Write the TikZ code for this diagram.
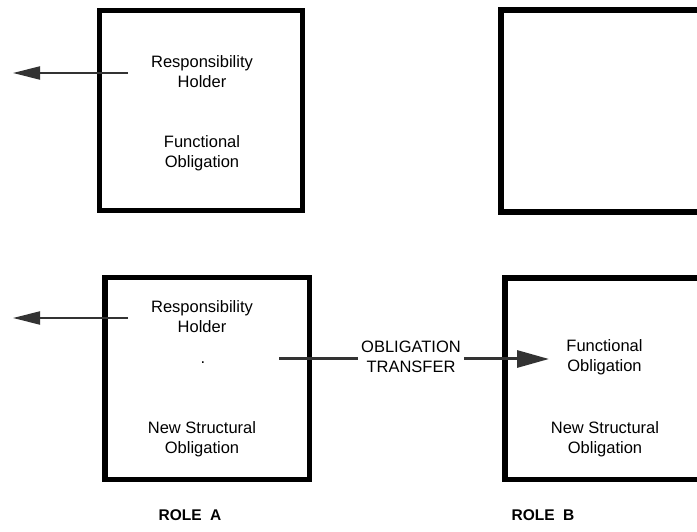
\documentclass[tikz,border=0pt]{standalone}
\usepackage{fontspec}
\setmainfont{Liberation Sans}
\usetikzlibrary{arrows.meta}
\begin{document}
\begin{tikzpicture}[x=1pt,y=1pt,
  rolebox/.style={draw=black,line width=5.5pt,inner sep=0pt,outer sep=0pt},
  boxtext/.style={align=center,inner sep=0pt,font=\fontsize{16.5}{20}\selectfont},
  rolename/.style={inner sep=0pt,font=\fontsize{15.5}{18}\selectfont\bfseries},
  holderarrow/.style={draw=black!80,fill=black!80,line width=2pt,-{Triangle[length=27pt,width=13pt]}},
  transferline/.style={draw=black!80,line width=3pt},
  transferarrow/.style={transferline,-{Triangle[length=32pt,width=17pt]}},
]
\useasboundingbox (0,0) rectangle (697,531);
\begin{scope}
\clip (0,0) rectangle (697,531);

% upper row: role A before the transfer, empty role B
\node[rolebox,minimum width=203pt,minimum height=200pt] (a1) at (201,420.5) {};
\node[rolebox,minimum width=205pt,minimum height=202pt] (b1) at (603.5,420) {};

% lower row: after the obligation transfer
\node[rolebox,minimum width=204.5pt,minimum height=202pt] (a2) at (207.25,152.5) {};
\node[rolebox,minimum width=205pt,minimum height=201.5pt] (b2) at (607.5,152.25) {};

% texts inside role A (upper)
\node[boxtext] (rh1) at (202,459) {Responsibility\\Holder};
\node[boxtext] (fo1) at (202,378) {Functional\\Obligation};

% texts inside role A (lower)
\node[boxtext] (rh2) at (202,214) {Responsibility\\Holder};
\node[boxtext] (dot) at (203,168) {.};
\node[boxtext] (ns1) at (202,91.5) {New Structural\\Obligation};

% texts inside role B (lower)
\node[boxtext] (fo2) at (604.5,173.5) {Functional\\Obligation};
\node[boxtext] (ns2) at (605,91.5) {New Structural\\Obligation};

% transfer label
\node[boxtext,inner xsep=3pt] (ot) at (411,174) {OBLIGATION\\TRANSFER};

% role names
\node[rolename] (ra) at (190,16) {ROLE\hspace{0.55em}A};
\node[rolename] (rb) at (543,16) {ROLE\hspace{0.55em}B};

% responsibility holder arrows
\coordinate (h1s) at (128,458);
\coordinate (h1e) at (13,458);
\coordinate (h2s) at (128,213);
\coordinate (h2e) at (13,213);
\draw[holderarrow] (h1s) -- (h1e);
\draw[holderarrow] (h2s) -- (h2e);

% obligation transfer arrow
\coordinate (ts) at (279,172);
\coordinate (te) at (549,172);
\draw[transferline] (ts) -- (ts -| ot.west);
\draw[transferarrow] (te -| ot.east) -- (te);
\end{scope}
\end{tikzpicture}
\end{document}
